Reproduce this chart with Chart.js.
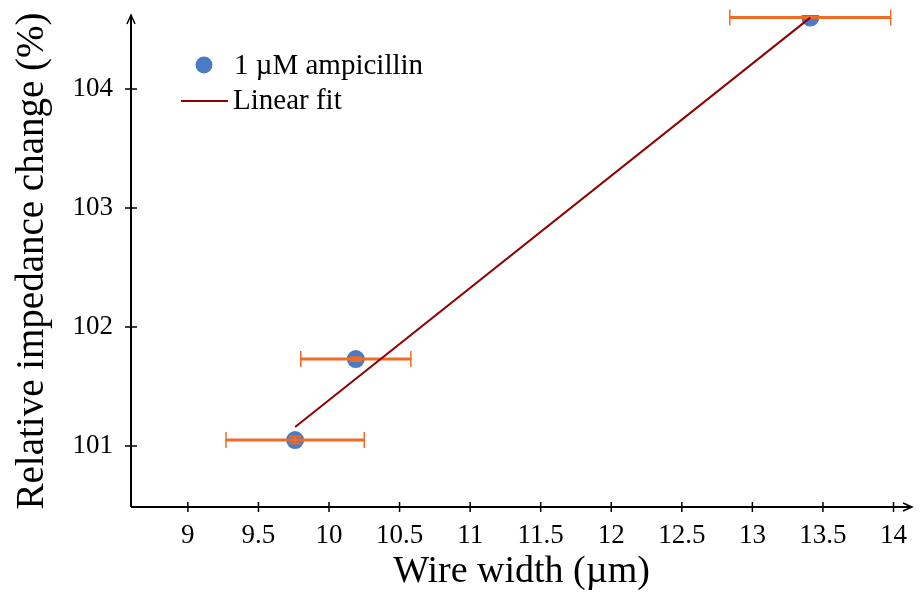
<!DOCTYPE html>
<html>
<head>
<meta charset="utf-8">
<script src="https://cdn.jsdelivr.net/npm/chart.js@4.4.1/dist/chart.umd.min.js"></script>
<style>
  html, body { margin: 0; padding: 0; background: #fff; }
  #wrap { width: 921px; height: 597px; position: relative; }
</style>
</head>
<body>
<div id="wrap"><canvas id="grafico"></canvas></div>
<script>
// dados
const X_VALUES = [9.76, 10.19, 13.41];
const Y_VALUES = [101.05, 101.73, 104.60];
const X_ERR = [0.49, 0.39, 0.57];
const Y_ERR = [0.03, 0.015, 0.004];
const FIT_X = [9.76, 13.41];
const FIT_Y = [101.16, 104.60];
const X_TICKS = [9, 9.5, 10, 10.5, 11, 11.5, 12, 12.5, 13, 13.5, 14];
const Y_TICKS = [101, 102, 103, 104];
const LABEL_PONTOS = "1 µM ampicillin";
const LABEL_FIT = "Linear fit";

const AZUL = "#4a7bc6";
const LARANJA = "#f26b25";
const VERMELHO = "#8f0000";
const SERIF = "'Liberation Serif', 'DejaVu Serif', serif";

// barras de erro, desenhadas logo depois dos pontos
const errorBars = {
  id: "errorBars",
  afterDatasetDraw(chart, args) {
    if (args.index !== 0) return;
    const ctx = chart.ctx, x = chart.scales.x, y = chart.scales.y;
    ctx.save();
    ctx.strokeStyle = LARANJA;
    X_VALUES.forEach(function(xv, i) {
      const py = y.getPixelForValue(Y_VALUES[i]);
      const x1 = x.getPixelForValue(xv - X_ERR[i]);
      const x2 = x.getPixelForValue(xv + X_ERR[i]);
      ctx.lineWidth = 3;
      ctx.beginPath(); ctx.moveTo(x1, py); ctx.lineTo(x2, py); ctx.stroke();
      ctx.lineWidth = 1.5;
      ctx.beginPath();
      ctx.moveTo(x1, py - 8); ctx.lineTo(x1, py + 8);
      ctx.moveTo(x2, py - 8); ctx.lineTo(x2, py + 8);
      ctx.stroke();
      // barra vertical pequena
      const px = x.getPixelForValue(xv);
      const y1 = y.getPixelForValue(Y_VALUES[i] - Y_ERR[i]);
      const y2 = y.getPixelForValue(Y_VALUES[i] + Y_ERR[i]);
      ctx.lineWidth = 2;
      ctx.beginPath();
      ctx.moveTo(px, y1); ctx.lineTo(px, y2);
      ctx.moveTo(px - 6, y1); ctx.lineTo(px + 6, y1);
      ctx.moveTo(px - 6, y2); ctx.lineTo(px + 6, y2);
      ctx.stroke();
    });
    ctx.restore();
  }
};

// eixos com setas e marcas que cruzam o eixo
const eixos = {
  id: "eixos",
  afterDraw(chart) {
    const ctx = chart.ctx, a = chart.chartArea, x = chart.scales.x, y = chart.scales.y;
    ctx.save();
    ctx.strokeStyle = "#000";
    ctx.lineWidth = 2;
    ctx.beginPath();
    ctx.moveTo(a.left, a.bottom); ctx.lineTo(a.left, a.top);
    ctx.moveTo(a.left, a.bottom); ctx.lineTo(a.right, a.bottom);
    ctx.stroke();
    ctx.lineWidth = 1.5;
    ctx.beginPath();
    ctx.moveTo(a.left - 4, a.top + 9); ctx.lineTo(a.left, a.top); ctx.lineTo(a.left + 4, a.top + 9);
    ctx.moveTo(a.right - 9, a.bottom - 4); ctx.lineTo(a.right, a.bottom); ctx.lineTo(a.right - 9, a.bottom + 4);
    X_TICKS.forEach(function(v) {
      const px = x.getPixelForValue(v);
      ctx.moveTo(px, a.bottom - 5); ctx.lineTo(px, a.bottom + 5);
    });
    Y_TICKS.forEach(function(v) {
      const py = y.getPixelForValue(v);
      ctx.moveTo(a.left - 6, py); ctx.lineTo(a.left + 6, py);
    });
    ctx.stroke();
    ctx.restore();
  }
};

// legenda dentro da área
const legenda = {
  id: "legenda",
  afterDraw(chart) {
    const ctx = chart.ctx;
    ctx.save();
    ctx.fillStyle = AZUL;
    ctx.beginPath(); ctx.arc(204, 65, 8.5, 0, Math.PI * 2); ctx.fill();
    ctx.strokeStyle = VERMELHO;
    ctx.lineWidth = 2;
    ctx.beginPath(); ctx.moveTo(181, 101); ctx.lineTo(228, 101); ctx.stroke();
    ctx.fillStyle = "#000";
    ctx.font = "29px " + SERIF;
    ctx.textBaseline = "alphabetic";
    ctx.fillText(chart.data.datasets[0].label, 234, 74);
    ctx.fillText(chart.data.datasets[1].label, 233, 109);
    ctx.restore();
  }
};

new Chart(document.getElementById("grafico"), {
  type: "scatter",
  data: {
    datasets: [
      {
        label: LABEL_PONTOS,
        data: X_VALUES.map(function(v, i) { return { x: v, y: Y_VALUES[i] }; }),
        backgroundColor: AZUL, borderColor: AZUL,
        pointRadius: 9, pointHoverRadius: 9, borderWidth: 0,
        order: 2
      },
      {
        label: LABEL_FIT,
        type: "line",
        data: FIT_X.map(function(v, i) { return { x: v, y: FIT_Y[i] }; }),
        borderColor: VERMELHO, borderWidth: 2, pointRadius: 0,
        fill: false, showLine: true,
        order: 1
      }
    ]
  },
  options: {
    responsive: true,
    maintainAspectRatio: false,
    animation: false,
    events: [],
    layout: { padding: { left: 0, right: 3, top: 15, bottom: 0 } },
    plugins: { legend: { display: false }, tooltip: { enabled: false } },
    scales: {
      x: {
        type: "linear", min: 8.597, max: 14.131,
        grid: { display: false, drawTicks: false },
        border: { display: false },
        afterBuildTicks: function(s) { s.ticks = X_TICKS.map(function(v) { return { value: v }; }); },
        afterFit: function(s) { s.height = 90; s.paddingLeft = 0; s.paddingRight = 0; },
        ticks: {
          autoSkip: false, maxRotation: 0, padding: 13, color: "#000",
          font: { family: SERIF, size: 27 },
          callback: function(v) { return String(v); }
        },
        title: {
          display: true, text: "Wire width (µm)", color: "#000",
          font: { family: SERIF, size: 38 }, padding: { top: 0, bottom: 2 }
        }
      },
      y: {
        type: "linear", min: 100.487, max: 104.622,
        grid: { display: false, drawTicks: false },
        border: { display: false },
        afterBuildTicks: function(s) { s.ticks = Y_TICKS.map(function(v) { return { value: v }; }); },
        afterFit: function(s) { s.width = 131; s.paddingTop = 0; s.paddingBottom = 0; },
        ticks: {
          padding: 18, color: "#000",
          font: { family: SERIF, size: 27 },
          callback: function(v) { return String(v); }
        },
        title: {
          display: true, text: "Relative impedance change (%)", color: "#000",
          font: { family: SERIF, size: 39 }, padding: { top: 9, bottom: 0 }
        }
      }
    }
  },
  plugins: [errorBars, eixos, legenda]
});
</script>
</body>
</html>
